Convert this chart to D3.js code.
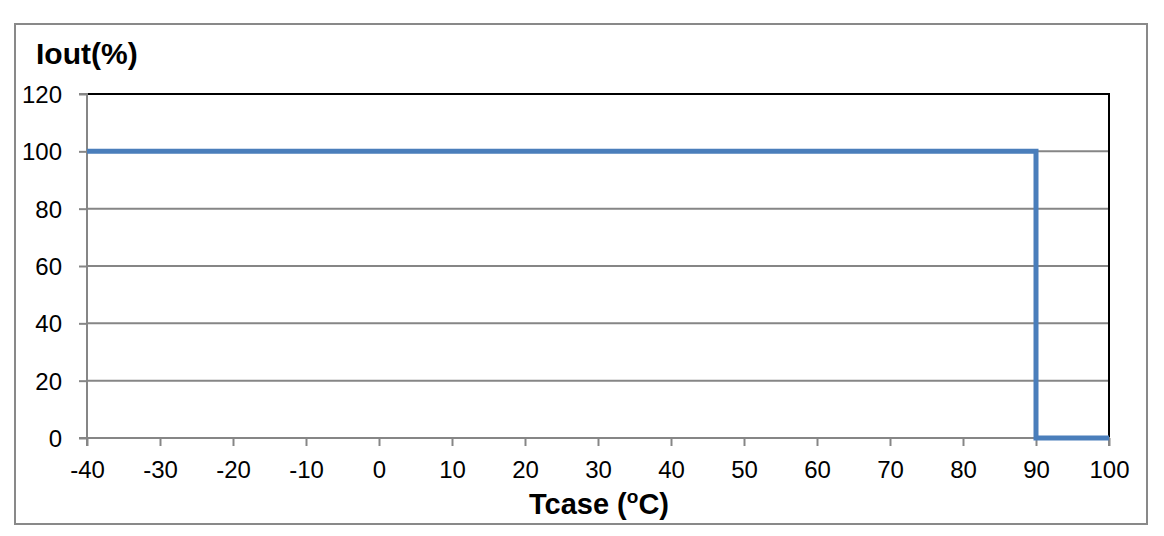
<!DOCTYPE html>
<html><head><meta charset="utf-8">
<script src="https://cdn.jsdelivr.net/npm/d3@7/dist/d3.min.js"></script>
<style>
html,body{margin:0;padding:0;background:#fff;}
svg{display:block;font-family:"Liberation Sans",Arial,sans-serif;}
</style></head>
<body>
<svg id="chart" width="1164" height="536"></svg>
<script>
const xTicks = [-40,-30,-20,-10,0,10,20,30,40,50,60,70,80,90,100];
const yTicks = [0,20,40,60,80,100,120];
const tempC = [-40, 90, 90, 100];
const ioutPct = [100, 100, 0, 0];
const yTitle = "Iout(%)";
const xTitle = "Tcase (";

const svg = d3.select("#chart");
const L = 87, R = 1109, T = 94, B = 438;
const x = d3.scaleLinear().domain([-40,100]).range([L,R]);
const y = d3.scaleLinear().domain([0,120]).range([B,T]);
const FONT = "'Liberation Sans', Arial, sans-serif";

// outer frame
svg.append("rect").attr("x",15).attr("y",24).attr("width",1132).attr("height",500)
  .attr("fill","#fff").attr("stroke","#898989").attr("stroke-width",2);

// grid lines
svg.append("g").selectAll("line").data(yTicks.filter(d=>d>0 && d<120)).join("line")
  .attr("x1",L).attr("x2",R).attr("y1",d=>y(d)).attr("y2",d=>y(d))
  .attr("stroke","#868686").attr("stroke-width",2);

// top and right border (black)
svg.append("path").attr("d",`M${L},${y(120)}H${R}V${y(0)}`)
  .attr("fill","none").attr("stroke","#000").attr("stroke-width",2);

// y axis
const yAxis = d3.axisLeft(y).tickValues(yTicks).tickSize(8).tickPadding(17).tickFormat(d=>String(d));
const gy = svg.append("g").attr("transform",`translate(${L},0)`).call(yAxis);
gy.attr("font-size",null).attr("font-family",null);
gy.select(".domain").attr("stroke","#868686").attr("stroke-width",2).attr("d",`M-8,${T}H0V${B}H-8`);
gy.selectAll(".tick line").attr("stroke","#868686").attr("stroke-width",2);
gy.selectAll(".tick text").style("font-size","24px").style("font-family",FONT).attr("fill","#000")
  .attr("dy","0.35em");

// x axis
const xAxis = d3.axisBottom(x).tickValues(xTicks).tickSize(8).tickPadding(15).tickFormat(d=>String(d));
const gx = svg.append("g").attr("transform",`translate(0,${B})`).call(xAxis);
gx.attr("font-size",null).attr("font-family",null);
gx.select(".domain").attr("stroke","#868686").attr("stroke-width",2).attr("d",`M${L},8V0H${R}V8`);
gx.selectAll(".tick line").attr("stroke","#868686").attr("stroke-width",2);
gx.selectAll(".tick text").style("font-size","24px").style("font-family",FONT).attr("fill","#000")
  .attr("dy","0.71em");

// data line
const pts = tempC.map((t,i)=>[t, ioutPct[i]]);
svg.append("path").datum(pts)
  .attr("d", d3.line().x(d=>x(d[0])).y(d=>y(d[1])))
  .attr("fill","none").attr("stroke","#4a7ebb").attr("stroke-width",5).attr("stroke-linejoin","miter");

// titles
svg.append("text").attr("x",36).attr("y",64).style("font-size","30px").attr("font-weight","bold").text(yTitle);
const xt = svg.append("text").attr("x",599).attr("y",514).attr("text-anchor","middle")
  .style("font-size","29px").attr("font-weight","bold");
xt.append("tspan").text(xTitle);
xt.append("tspan").style("font-size","19px").attr("dy",-11).text("o");
xt.append("tspan").attr("dy",11).text("C)");
</script>
</body></html>
